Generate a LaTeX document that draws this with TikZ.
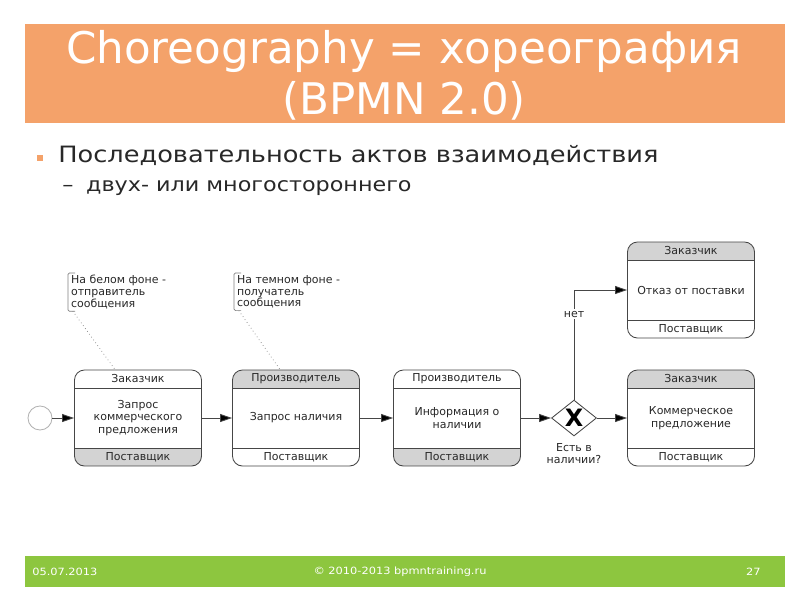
\documentclass[tikz,border=0pt]{standalone}
\usepackage{fontspec}
\setmainfont{DejaVu Sans}
\newfontfamily\widefont{DejaVu Sans}[FakeStretch=1.14]
\usetikzlibrary{arrows.meta, positioning, shapes.geometric}
\definecolor{titleorange}{RGB}{244,162,106}
\definecolor{footgreen}{RGB}{141,198,63}
\definecolor{bandgray}{RGB}{211,211,211}
\definecolor{linegray}{RGB}{70,70,70}
\definecolor{bodytext}{RGB}{40,40,40}

\begin{document}
\begin{tikzpicture}[
  x=0.025cm, y=-0.025cm,
  font=\fontsize{7.8}{9}\selectfont,
  task/.style={draw=linegray, line width=0.6pt, rounded corners=0.25cm, minimum width=3.175cm, minimum height=2.4cm, align=center, inner sep=2pt, text=bodytext},
  recvtop/.style={path picture={
    \fill[bandgray, sharp corners] (path picture bounding box.north west) rectangle ([yshift=-0.45cm]path picture bounding box.north east);
    \draw[linegray, line width=0.6pt, sharp corners] ([yshift=-0.45cm]path picture bounding box.north west) -- ([yshift=-0.45cm]path picture bounding box.north east)
      ([yshift=0.45cm]path picture bounding box.south west) -- ([yshift=0.45cm]path picture bounding box.south east);}},
  recvbot/.style={path picture={
    \fill[bandgray, sharp corners] (path picture bounding box.south west) rectangle ([yshift=0.45cm]path picture bounding box.south east);
    \draw[linegray, line width=0.6pt, sharp corners] ([yshift=-0.45cm]path picture bounding box.north west) -- ([yshift=-0.45cm]path picture bounding box.north east)
      ([yshift=0.45cm]path picture bounding box.south west) -- ([yshift=0.45cm]path picture bounding box.south east);}},
  band/.style={inner sep=0pt, text=bodytext},
  gate/.style={diamond, draw=linegray, line width=0.6pt, fill=white, minimum width=1.125cm, minimum height=0.875cm, inner sep=0pt},
  startev/.style={circle, draw=gray!60, line width=0.6pt, minimum size=0.6cm, inner sep=0pt},
  arr/.style={-{Triangle[length=3mm, width=2mm, fill=black]}, draw=linegray, line width=0.6pt},
  note/.style={align=left, anchor=north west, inner xsep=2pt, inner ysep=1.5pt, font=\fontsize{7.8}{8.3}\selectfont, text=bodytext},
  notebr/.style={draw=gray, line width=0.5pt, rounded corners=1pt},
  assoc/.style={draw=gray, dotted, line width=0.5pt},
  foot/.style={text=white, font=\widefont\fontsize{7.1}{8}\selectfont, inner sep=0pt}
]
  \useasboundingbox[fill=white] (0,0) rectangle (800,600);

  % title band
  \fill[titleorange] (25,24) rectangle (785,123);
  \node[text=white, align=center, font=\fontsize{31}{36.3}\selectfont] (title) at (404,75.5) {Choreography = хореография\\(BPMN 2.0)};

  % bullets
  \node[fill=titleorange, minimum size=0.13cm, inner sep=0pt] (bul) at (40,158) {};
  \node[anchor=base west, inner sep=0pt, text=bodytext, font=\widefont\fontsize{16}{18}\selectfont] (b1) at (58,162) {Последовательность актов взаимодействия};
  \node[anchor=base west, inner sep=0pt, text=bodytext, font=\widefont\fontsize{13.9}{16}\selectfont] (b2) at (62,191) {–\hspace{0.65em}двух- или многостороннего};

  % choreography tasks
  \node[startev] (start) at (40,418) {};
  \node[task, recvbot] (t1) at (138,418) {Запрос\\коммерческого\\предложения};
  \node[task, recvtop] (t2) at (296,418) {Запрос наличия};
  \node[task, recvbot] (t3) at (457,418) {Информация о\\наличии};
  \node[gate] (gw) at (574,418) {\fontsize{17}{17}\selectfont\bfseries X};
  \node[task, recvtop] (t4) at (691,290) {Отказ от поставки};
  \node[task, recvtop] (t5) at (691,418) {Коммерческое\\предложение};

  % participant bands
  \node[band] (t1a) at ([yshift=-0.225cm]t1.north) {Заказчик};
  \node[band] (t1b) at ([yshift=0.225cm]t1.south) {Поставщик};
  \node[band] (t2a) at ([yshift=-0.225cm]t2.north) {Производитель};
  \node[band] (t2b) at ([yshift=0.225cm]t2.south) {Поставщик};
  \node[band] (t3a) at ([yshift=-0.225cm]t3.north) {Производитель};
  \node[band] (t3b) at ([yshift=0.225cm]t3.south) {Поставщик};
  \node[band] (t4a) at ([yshift=-0.225cm]t4.north) {Заказчик};
  \node[band] (t4b) at ([yshift=0.225cm]t4.south) {Поставщик};
  \node[band] (t5a) at ([yshift=-0.225cm]t5.north) {Заказчик};
  \node[band] (t5b) at ([yshift=0.225cm]t5.south) {Поставщик};

  \node[align=center, text=bodytext, below=0.05cm of gw] (gwl) {Есть в\\наличии?};

  % flows
  \draw[arr] (start) -- (t1);
  \draw[arr] (t1) -- (t2);
  \draw[arr] (t2) -- (t3);
  \draw[arr] (t3) -- (gw);
  \draw[arr] (gw) -- (t5);
  \draw[arr] (gw.north) |- (t4.west) node[pos=0.39, fill=white, text=bodytext, inner sep=1.5pt] (no) {нет};

  % annotations
  \node[note] (n1) at (68,273) {На белом фоне -\\отправитель\\сообщения};
  \draw[notebr] ([xshift=0.18cm]n1.north west) -- (n1.north west) -- (n1.south west) -- ([xshift=0.18cm]n1.south west);
  \draw[assoc] ([xshift=0.12cm]n1.south west) -- ([xshift=-0.575cm]t1.north);
  \node[note] (n2) at (234,273) {На темном фоне -\\получатель\\сообщения};
  \draw[notebr] ([xshift=0.18cm]n2.north west) -- (n2.north west) -- (n2.south west) -- ([xshift=0.18cm]n2.south west);
  \draw[assoc] ([xshift=0.12cm]n2.south west) -- ([xshift=-0.4cm]t2.north);

  % footer
  \fill[footgreen] (25,556) rectangle (785,587);
  \node[foot, anchor=west] (date) at (32,572) {05.07.2013};
  \node[foot] (copy) at (400,572) {© 2010-2013 bpmntraining.ru};
  \node[foot, anchor=east] (page) at (761,572) {27};
\end{tikzpicture}
\end{document}
